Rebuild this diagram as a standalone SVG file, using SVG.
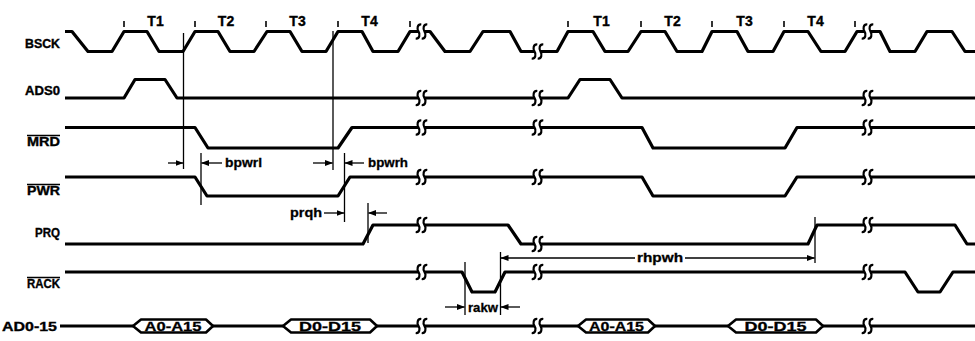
<svg xmlns="http://www.w3.org/2000/svg" xmlns:xlink="http://www.w3.org/1999/xlink" width="975" height="341" viewBox="0 0 975 341">
<style>
.sig{fill:none;stroke:#000;stroke-width:3.2;stroke-linejoin:round;stroke-linecap:butt}
.thin{fill:none;stroke:#000;stroke-width:1.3}
.tick{stroke:#000;stroke-width:1.6}
.brk{fill:none;stroke:#000;stroke-width:2.2}
.lbl{font-family:"Liberation Sans",Arial,sans-serif;font-weight:bold;font-size:12px;fill:#000;stroke:#000;stroke-width:0.35}
.t{font-family:"Liberation Sans",Arial,sans-serif;font-weight:bold;font-size:14px;fill:#000;text-anchor:middle;stroke:#000;stroke-width:0.35}
.dim{font-family:"Liberation Sans",Arial,sans-serif;font-weight:bold;font-size:13px;fill:#000;stroke:#000;stroke-width:0.3}
.bus{fill:#fff;stroke:#000;stroke-width:2.6;stroke-linejoin:round}
.bt{font-family:"Liberation Sans",Arial,sans-serif;font-weight:bold;font-size:13px;fill:#000;text-anchor:middle;stroke:#000;stroke-width:0.3}
.ovl{stroke:#000;stroke-width:1.5}
</style>
<defs>
<path id="brk" d="M2.8,-7 C-1.2,-7.5 -1.8,-2.5 0,0 C1.8,2.5 1.2,7.5 -2.8,7"/>
<marker id="ah" markerWidth="8" markerHeight="6" refX="7.5" refY="3" orient="auto" markerUnits="userSpaceOnUse">
<path d="M0,0 L8,3 L0,6 z" fill="#000"/>
</marker>
</defs>
<rect width="975" height="341" fill="#fff"/>

<g id="BSCK">
<text class="lbl" x="25" y="47.5" textLength="35" lengthAdjust="spacingAndGlyphs">BSCK</text>
<polyline class="sig" points="65,31.5 72,31.5 88,51.5 112,51.5 124,31.5 147,31.5 159,51.5 183,51.5 195,31.5 218,31.5 230,51.5 254,51.5 267,31.5 290,31.5 302,51.5 326,51.5 338,31.5 362,31.5 373,51.5 398,51.5 410,31.5 418,31.5"/>
<polyline class="sig" points="425,31.5 430,31.5 445,51.5 470,51.5 483,31.5 510,31.5 521,51.5 534,51.5"/>
<polyline class="sig" points="540,51.5 557,51.5 568,31.5 593,31.5 605,51.5 628,51.5 641,31.5 665,31.5 677,51.5 702,51.5 712,31.5 737,31.5 748,51.5 773,51.5 784,31.5 808,31.5 821,51.5 845,51.5 857,31.5 864,31.5"/>
<polyline class="sig" points="871,31.5 880,31.5 890,51.5 915,51.5 927,31.5 952,31.5 965,51.5 975,51.5"/>
<g class="brk">
<use xlink:href="#brk" x="418.5" y="31.5"/><use xlink:href="#brk" x="424.5" y="31.5"/>
<use xlink:href="#brk" x="534.5" y="51.5"/><use xlink:href="#brk" x="540.5" y="51.5"/>
<use xlink:href="#brk" x="864.5" y="31.5"/><use xlink:href="#brk" x="870.5" y="31.5"/>
</g>
<g class="tick">
<line x1="124" y1="21" x2="124" y2="27"/><line x1="195" y1="21" x2="195" y2="27"/>
<line x1="266" y1="21" x2="266" y2="27"/><line x1="338" y1="21" x2="338" y2="27"/>
<line x1="410" y1="21" x2="410" y2="27"/><line x1="568" y1="21" x2="568" y2="27"/>
<line x1="641" y1="21" x2="641" y2="27"/><line x1="712" y1="21" x2="712" y2="27"/>
<line x1="784" y1="21" x2="784" y2="27"/><line x1="855" y1="21" x2="855" y2="27"/>
</g>
<text class="t" x="155.5" y="26">T1</text>
<text class="t" x="226" y="26">T2</text>
<text class="t" x="297.5" y="26">T3</text>
<text class="t" x="369.5" y="26">T4</text>
<text class="t" x="601.5" y="26">T1</text>
<text class="t" x="672.5" y="26">T2</text>
<text class="t" x="744.5" y="26">T3</text>
<text class="t" x="815.5" y="26">T4</text>
</g>

<g id="ADS0">
<text class="lbl" x="25" y="94.5" textLength="35" lengthAdjust="spacingAndGlyphs">ADS0</text>
<polyline class="sig" points="65,98 124,98 135,79.5 165,79.5 177,98 418,98"/>
<polyline class="sig" points="425,98 534,98"/>
<polyline class="sig" points="540,98 568,98 580,79.5 610,79.5 622,98 864,98"/>
<polyline class="sig" points="871,98 975,98"/>
<g class="brk">
<use xlink:href="#brk" x="418.5" y="98"/><use xlink:href="#brk" x="424.5" y="98"/>
<use xlink:href="#brk" x="534.5" y="98"/><use xlink:href="#brk" x="540.5" y="98"/>
<use xlink:href="#brk" x="864.5" y="98"/><use xlink:href="#brk" x="870.5" y="98"/>
</g>
</g>

<g id="MRD">
<text class="lbl" x="27" y="145.5" textLength="33" lengthAdjust="spacingAndGlyphs">MRD</text>
<line class="ovl" x1="27" y1="135.5" x2="60" y2="135.5"/>
<polyline class="sig" points="65,127.5 195,127.5 208,148 338,148 352,127.5 418,127.5"/>
<polyline class="sig" points="425,127.5 534,127.5"/>
<polyline class="sig" points="540,127.5 642,127.5 653,148 785,148 797,127.5 864,127.5"/>
<polyline class="sig" points="871,127.5 975,127.5"/>
<g class="brk">
<use xlink:href="#brk" x="418.5" y="127.5"/><use xlink:href="#brk" x="424.5" y="127.5"/>
<use xlink:href="#brk" x="534.5" y="127.5"/><use xlink:href="#brk" x="540.5" y="127.5"/>
<use xlink:href="#brk" x="864.5" y="127.5"/><use xlink:href="#brk" x="870.5" y="127.5"/>
</g>
</g>

<g id="PWR">
<text class="lbl" x="27" y="194.5" textLength="33" lengthAdjust="spacingAndGlyphs">PWR</text>
<line class="ovl" x1="27" y1="184.5" x2="60" y2="184.5"/>
<polyline class="sig" points="65,177 195,177 207,196 338,196 350,177 418,177"/>
<polyline class="sig" points="425,177 534,177"/>
<polyline class="sig" points="540,177 642,177 653,196 785,196 797,177 864,177"/>
<polyline class="sig" points="871,177 975,177"/>
<g class="brk">
<use xlink:href="#brk" x="418.5" y="177"/><use xlink:href="#brk" x="424.5" y="177"/>
<use xlink:href="#brk" x="534.5" y="177"/><use xlink:href="#brk" x="540.5" y="177"/>
<use xlink:href="#brk" x="864.5" y="177"/><use xlink:href="#brk" x="870.5" y="177"/>
</g>
</g>

<g id="PRQ">
<text class="lbl" x="35" y="236.5" textLength="25" lengthAdjust="spacingAndGlyphs">PRQ</text>
<polyline class="sig" points="65,244 363,244 373,225 418,225"/>
<polyline class="sig" points="425,225 508,225 521,244 534,244"/>
<polyline class="sig" points="540,244 808,244 817,225 864,225"/>
<polyline class="sig" points="871,225 955,225 967,244 975,244"/>
<g class="brk">
<use xlink:href="#brk" x="418.5" y="225"/><use xlink:href="#brk" x="424.5" y="225"/>
<use xlink:href="#brk" x="534.5" y="244"/><use xlink:href="#brk" x="540.5" y="244"/>
<use xlink:href="#brk" x="864.5" y="225"/><use xlink:href="#brk" x="870.5" y="225"/>
</g>
</g>

<g id="RACK">
<text class="lbl" x="27" y="287.5" textLength="33" lengthAdjust="spacingAndGlyphs">RACK</text>
<line class="ovl" x1="27" y1="277.5" x2="60" y2="277.5"/>
<polyline class="sig" points="65,272 418,272"/>
<polyline class="sig" points="425,272 462,272 472,292 495,292 505,272 534,272"/>
<polyline class="sig" points="540,272 864,272"/>
<polyline class="sig" points="871,272 905,272 918,292 940,292 953,272 975,272"/>
<g class="brk">
<use xlink:href="#brk" x="418.5" y="272"/><use xlink:href="#brk" x="424.5" y="272"/>
<use xlink:href="#brk" x="534.5" y="272"/><use xlink:href="#brk" x="540.5" y="272"/>
<use xlink:href="#brk" x="864.5" y="272"/><use xlink:href="#brk" x="870.5" y="272"/>
</g>
</g>

<g id="AD0-15">
<text class="lbl" x="2" y="331" textLength="55" lengthAdjust="spacingAndGlyphs" style="font-size:13px">AD0-15</text>
<polyline class="sig" points="60,326 133,326"/>
<polyline class="sig" points="213,326 283,326"/>
<polyline class="sig" points="377,326 418,326"/>
<polyline class="sig" points="425,326 534,326"/>
<polyline class="sig" points="540,326 578,326"/>
<polyline class="sig" points="655,326 728,326"/>
<polyline class="sig" points="823,326 864,326"/>
<polyline class="sig" points="871,326 975,326"/>
<g class="brk">
<use xlink:href="#brk" x="418.5" y="326"/><use xlink:href="#brk" x="424.5" y="326"/>
<use xlink:href="#brk" x="534.5" y="326"/><use xlink:href="#brk" x="540.5" y="326"/>
<use xlink:href="#brk" x="864.5" y="326"/><use xlink:href="#brk" x="870.5" y="326"/>
</g>
<g id="bus-a1"><polygon class="bus" points="133,326 141,319.5 206,319.5 213,326 206,332.5 141,332.5"/><text class="bt" x="173" y="331" textLength="57" lengthAdjust="spacingAndGlyphs">A0-A15</text></g>
<g id="bus-d1"><polygon class="bus" points="283,326 291,319.5 370,319.5 377,326 370,332.5 291,332.5"/><text class="bt" x="330" y="331" textLength="62" lengthAdjust="spacingAndGlyphs">D0-D15</text></g>
<g id="bus-a2"><polygon class="bus" points="578,326 586,319.5 648,319.5 655,326 648,332.5 586,332.5"/><text class="bt" x="616.5" y="331" textLength="55" lengthAdjust="spacingAndGlyphs">A0-A15</text></g>
<g id="bus-d2"><polygon class="bus" points="728,326 736,319.5 816,319.5 823,326 816,332.5 736,332.5"/><text class="bt" x="775.5" y="331" textLength="62" lengthAdjust="spacingAndGlyphs">D0-D15</text></g>
</g>

<g id="connectors">
<line class="thin" x1="183.5" y1="33" x2="183.5" y2="169"/>
<line class="thin" x1="333" y1="31" x2="333" y2="170"/>
<line class="thin" x1="201" y1="153" x2="201" y2="205"/>
<line class="thin" x1="344.5" y1="153" x2="344.5" y2="222"/>
<line class="thin" x1="368" y1="203" x2="368" y2="243"/>
<line class="thin" x1="465" y1="262" x2="465" y2="315"/>
<line class="thin" x1="500.5" y1="252" x2="500.5" y2="315"/>
<line class="thin" x1="815" y1="217" x2="815" y2="263"/>

<line class="thin" x1="168" y1="163" x2="183" y2="163" marker-end="url(#ah)"/>
<line class="thin" x1="222" y1="163" x2="201.5" y2="163" marker-end="url(#ah)"/>
<line class="thin" x1="313" y1="163" x2="332.5" y2="163" marker-end="url(#ah)"/>
<line class="thin" x1="364" y1="163" x2="345" y2="163" marker-end="url(#ah)"/>
<line class="thin" x1="324" y1="213" x2="344" y2="213" marker-end="url(#ah)"/>
<line class="thin" x1="387" y1="213" x2="368.5" y2="213" marker-end="url(#ah)"/>
<line class="thin" x1="635" y1="258" x2="501" y2="258" marker-end="url(#ah)"/>
<line class="thin" x1="685" y1="258" x2="814.5" y2="258" marker-end="url(#ah)"/>
<line class="thin" x1="445" y1="307" x2="464.5" y2="307" marker-end="url(#ah)"/>
<line class="thin" x1="520" y1="307" x2="501" y2="307" marker-end="url(#ah)"/>

<text class="dim" x="225" y="167" textLength="37" lengthAdjust="spacingAndGlyphs">bpwrl</text>
<text class="dim" x="368" y="167" textLength="40" lengthAdjust="spacingAndGlyphs">bpwrh</text>
<text class="dim" x="290" y="217" textLength="32" lengthAdjust="spacingAndGlyphs">prqh</text>
<text class="dim" x="637" y="262" textLength="46" lengthAdjust="spacingAndGlyphs">rhpwh</text>
<text class="dim" x="468" y="312" textLength="30" lengthAdjust="spacingAndGlyphs">rakw</text>
</g>
</svg>
